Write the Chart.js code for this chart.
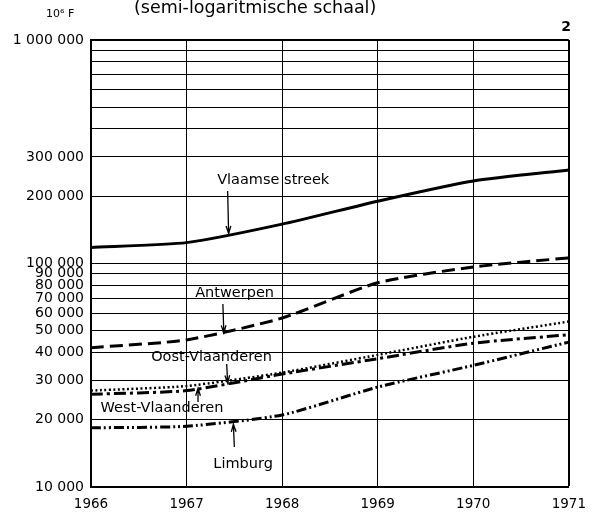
<!DOCTYPE html>
<html>
<head>
<meta charset="utf-8">
<script src="https://cdn.jsdelivr.net/npm/chart.js@4/dist/chart.umd.min.js"></script>
<style>
  html, body { margin: 0; padding: 0; background: #fff; }
  #wrap { width: 595px; height: 518px; position: relative; }
</style>
</head>
<body>
<div id="wrap"><canvas id="chart" width="595" height="518"></canvas></div>
<script>
// jaren en reeksen (10^6 F)
const years = [1966, 1967, 1968, 1969, 1970, 1971];
const vlaamseStreek = [118000, 124000, 150000, 190000, 234000, 262000];
const antwerpen = [42000, 45500, 57000, 82000, 96500, 106000];
const oostVlaanderen = [27000, 28300, 32500, 39000, 47000, 55000];
const westVlaanderen = [26000, 27000, 32000, 37500, 44000, 48000];
const limburg = [18400, 18700, 21000, 28000, 35000, 44500];

// rasterlijnen en labels van de y-as
const yGrid = [10000, 20000, 30000, 40000, 50000, 60000, 70000, 80000, 90000,
  100000, 200000, 300000, 400000, 500000, 600000, 700000, 800000, 900000, 1000000];
const yLabels = [10000, 20000, 30000, 40000, 50000, 60000, 70000, 80000, 90000,
  100000, 200000, 300000, 1000000];

// namen bij de lijnen: tekst + pijl, in data-coordinaten
const notes = [
  { text: 'Vlaamse streek', x: 1967.32, y: 236000, from: [1967.43, 211000], to: [1967.44, 136000] },
  { text: 'Antwerpen', x: 1967.09, y: 73800, from: [1967.38, 65900], to: [1967.39, 48900] },
  { text: 'Oost-Vlaanderen', x: 1966.63, y: 38200, from: [1967.42, 35500], to: [1967.43, 29200] },
  { text: 'West-Vlaanderen', x: 1966.10, y: 22500, from: [1967.12, 24000], to: [1967.12, 27700] },
  { text: 'Limburg', x: 1967.28, y: 12700, from: [1967.50, 15100], to: [1967.49, 19100] },
];

const FONT = 'DejaVu Sans';

function fmt(v) {
  return String(v).replace(/\B(?=(\d{3})+(?!\d))/g, ' ');
}

function serie(data, dash, width) {
  return {
    data: years.map((y, i) => ({ x: y, y: data[i] })),
    borderColor: '#000',
    borderWidth: width,
    borderDash: dash,
    pointRadius: 0,
    fill: false,
    tension: 0.2,
  };
}

// tekst, pijlen en kop
const notesPlugin = {
  id: 'notes',
  afterDraw(chart) {
    const { ctx, scales } = chart;
    const X = scales.x, Y = scales.y;
    ctx.save();
    ctx.fillStyle = '#000';
    ctx.strokeStyle = '#000';
    ctx.font = `14.5px "${FONT}"`;
    ctx.textBaseline = 'middle';
    ctx.textAlign = 'left';
    notes.forEach((n) => {
      ctx.fillText(n.text, X.getPixelForValue(n.x), Y.getPixelForValue(n.y));
      const x1 = X.getPixelForValue(n.from[0]), y1 = Y.getPixelForValue(n.from[1]);
      const x2 = X.getPixelForValue(n.to[0]), y2 = Y.getPixelForValue(n.to[1]);
      ctx.lineWidth = 1.3;
      ctx.beginPath();
      ctx.moveTo(x1, y1);
      ctx.lineTo(x2, y2);
      const a = Math.atan2(y2 - y1, x2 - x1);
      const h = 8;
      ctx.moveTo(x2 - h * Math.cos(a - 0.3), y2 - h * Math.sin(a - 0.3));
      ctx.lineTo(x2, y2);
      ctx.lineTo(x2 - h * Math.cos(a + 0.3), y2 - h * Math.sin(a + 0.3));
      ctx.stroke();
    });

    ctx.font = `11px "${FONT}"`;
    ctx.fillText('10⁶ F', 46, 14);
    ctx.font = `17.5px "${FONT}"`;
    ctx.fillText('(semi-logaritmische schaal)', 134, 8);
    ctx.font = `bold 14px "${FONT}"`;
    ctx.textAlign = 'right';
    ctx.fillText('2', 571, 27);
    ctx.restore();
  },
};

new Chart(document.getElementById('chart'), {
  type: 'line',
  data: {
    datasets: [
      serie(vlaamseStreek, [], 3),
      serie(antwerpen, [13, 6], 3),
      serie(oostVlaanderen, [2, 2.5], 2.5),
      serie(westVlaanderen, [12, 4, 3, 4], 3),
      serie(limburg, [10, 3, 2, 3, 2, 3], 3),
    ],
  },
  options: {
    responsive: false,
    animation: false,
    layout: { padding: { top: 40, right: 26, left: 0, bottom: 0 } },
    plugins: {
      legend: { display: false },
      tooltip: { enabled: false },
    },
    scales: {
      x: {
        type: 'linear',
        min: 1966,
        max: 1971,
        afterFit: (s) => { s.height = 31; },
        ticks: {
          stepSize: 1,
          color: '#000',
          padding: 9,
          font: { family: FONT, size: 13.5 },
          callback: (v) => String(v),
        },
        grid: {
          color: '#000',
          lineWidth: (c) => (c.tick && c.tick.value === 1971 ? 2 : 1),
          drawTicks: false,
        },
        border: { color: '#000', width: 2 },
      },
      y: {
        type: 'logarithmic',
        min: 10000,
        max: 1000000,
        afterFit: (s) => { s.width = 91; },
        afterBuildTicks: (s) => { s.ticks = yGrid.map((v) => ({ value: v })); },
        ticks: {
          autoSkip: false,
          color: '#000',
          padding: 7,
          font: { family: FONT, size: 14 },
          callback: (v) => (yLabels.includes(v) ? fmt(v) : ''),
        },
        grid: {
          color: '#000',
          lineWidth: (c) => (c.tick && c.tick.value === 1000000 ? 2 : 1),
          drawTicks: false,
        },
        border: { color: '#000', width: 2 },
      },
    },
  },
  plugins: [notesPlugin],
});
</script>
</body>
</html>
